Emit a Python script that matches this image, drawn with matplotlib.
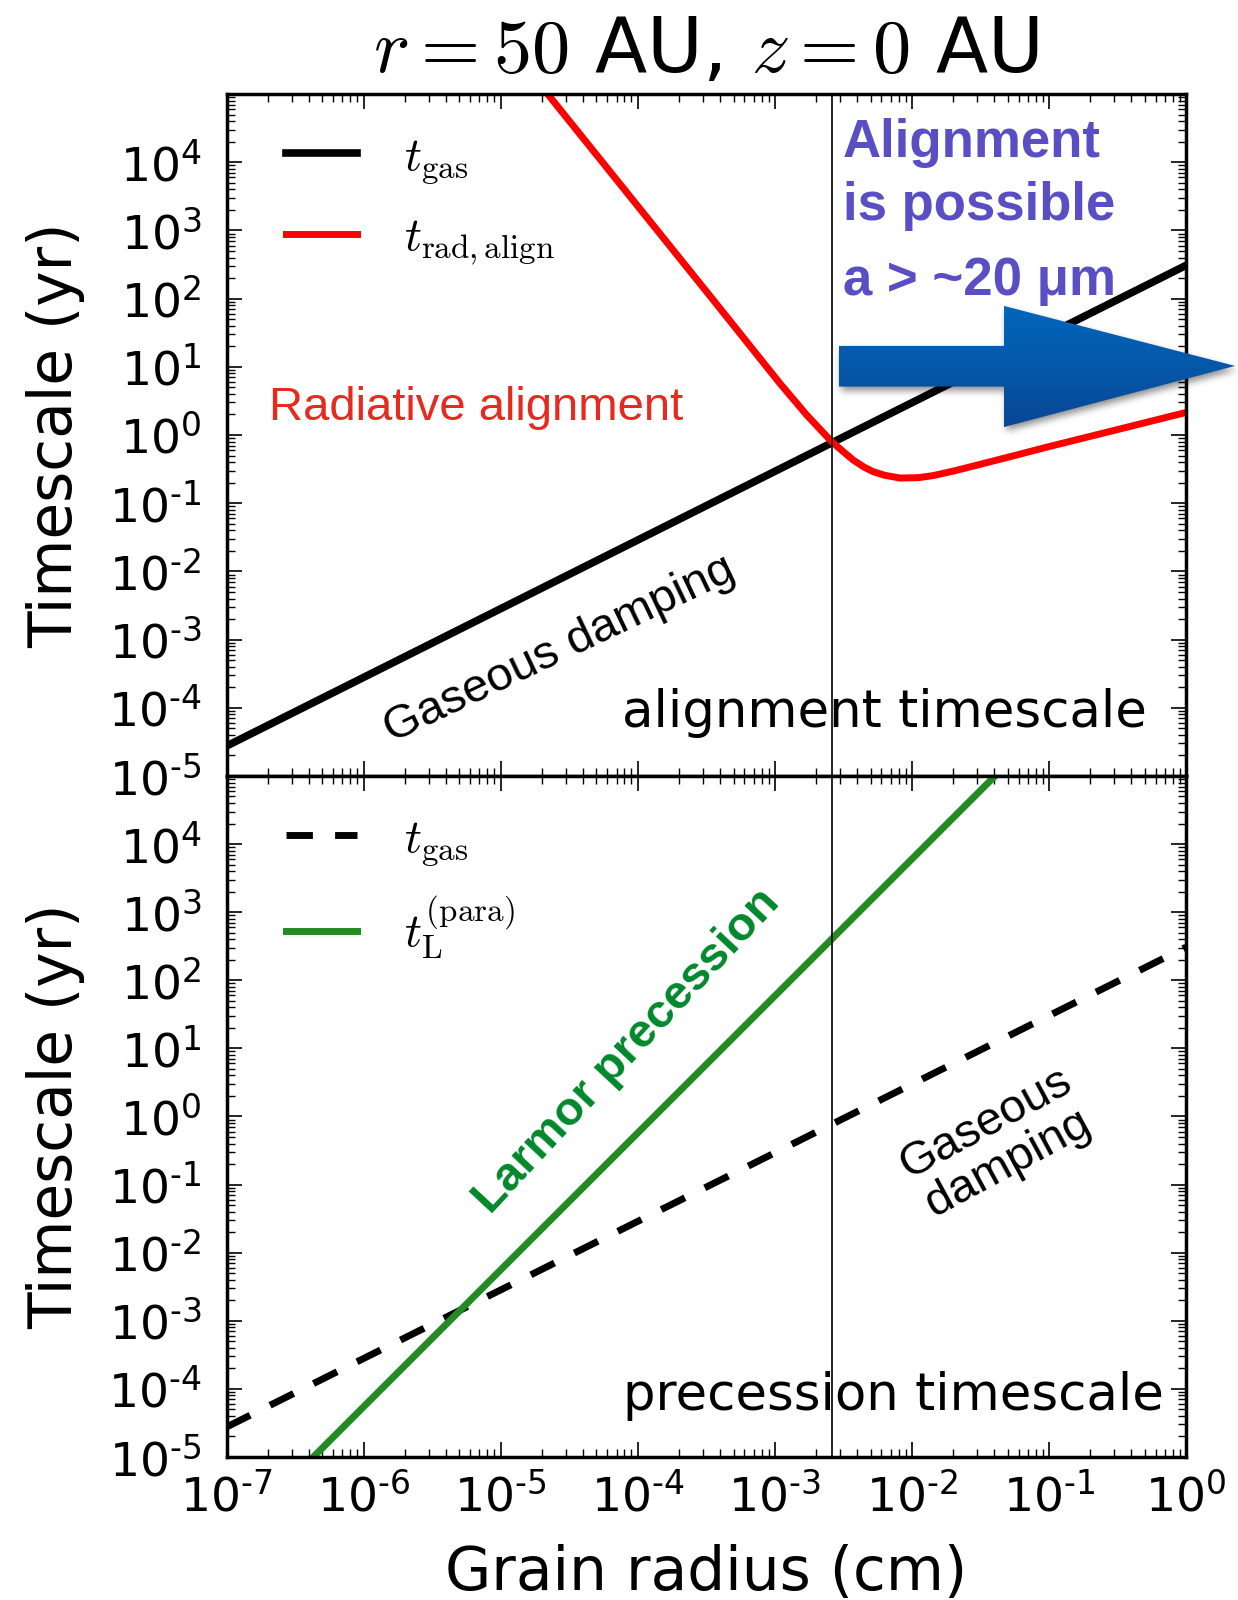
import numpy as np
import matplotlib
matplotlib.use("Agg")
import matplotlib.pyplot as plt
from matplotlib.colors import LinearSegmentedColormap
from matplotlib.patches import Polygon
from matplotlib.ticker import FixedLocator, FuncFormatter, LogLocator, NullFormatter

plt.rcParams["font.family"] = ["DejaVu Sans"]
plt.rcParams["mathtext.fontset"] = "cm"

# grain radius a (cm) and timescales (yr) at r = 50 AU, z = 0 AU
a_gas = [1e-7, 1.0]
t_gas = [2.75e-5, 3.07e2]

a_rad = [2.2e-5, 3.56e-4, 6.24e-4, 1.09e-3, 1.71e-3, 2.6e-3, 3.16e-3, 3.73e-3,
         4.47e-3, 5.22e-3, 6.31e-3, 8.18e-3, 1.12e-2, 1.43e-2, 2.0e-2, 3.16e-2,
         5.62e-2, 0.1, 0.316, 1.0]
t_rad = [1e5, 95.1, 23.2, 5.71, 1.96, 0.80, 0.569, 0.43,
         0.339, 0.29, 0.257, 0.234, 0.237, 0.254, 0.295, 0.372,
         0.50, 0.676, 1.20, 2.14]

a_larmor = [4.3e-7, 4.04e-2]
t_larmor = [1e-5, 1e5]

a_min_align = 2.6e-3  # ~20 micron threshold

x_decades = list(range(-7, 1))
y_decades = list(range(-5, 5))

SANS = ["Liberation Sans", "DejaVu Sans"]


def log_label(v, pos):
    e = int(round(np.log10(v)))
    # short hyphen for negative exponents
    exp = ("\u2010%d" % -e) if e < 0 else "%d" % e
    return r"$\mathdefault{10^{%s}}$" % exp


def style_axes(ax, show_xlabels):
    ax.set_xscale("log")
    ax.set_yscale("log")
    ax.set_xlim(1e-7, 1.0)
    ax.set_ylim(1e-5, 1e5)
    ax.xaxis.set_major_locator(FixedLocator([10.0 ** e for e in x_decades]))
    ax.yaxis.set_major_locator(FixedLocator([10.0 ** e for e in y_decades]))
    ax.xaxis.set_minor_locator(LogLocator(base=10, subs=np.arange(2, 10), numticks=30))
    ax.yaxis.set_minor_locator(LogLocator(base=10, subs=np.arange(2, 10), numticks=30))
    ax.xaxis.set_minor_formatter(NullFormatter())
    ax.yaxis.set_minor_formatter(NullFormatter())
    ax.yaxis.set_major_formatter(FuncFormatter(log_label))
    if show_xlabels:
        ax.xaxis.set_major_formatter(FuncFormatter(log_label))
    else:
        ax.xaxis.set_major_formatter(NullFormatter())
    ax.tick_params(which="both", direction="in", top=True, right=True)
    ax.tick_params(which="major", length=10.5, width=1.2, labelsize=34)
    ax.tick_params(which="minor", length=5.5, width=1.0)
    ax.tick_params(axis="y", pad=18)
    ax.tick_params(axis="x", pad=12)
    for sp in ax.spines.values():
        sp.set_linewidth(2.5)
    ax.axvline(a_min_align, color="k", lw=1.2)
    ax.set_ylabel("Timescale (yr)", fontsize=43)
    ax.yaxis.set_label_coords(-0.147, 0.5)


def add_legend(ax, spacing):
    ax.legend(loc="upper left", bbox_to_anchor=(0.062, 0.94), frameon=False,
              fontsize=34, handlelength=1.5, handletextpad=1.0,
              labelspacing=spacing, borderaxespad=0, borderpad=0)


fig = plt.figure(figsize=(12.38, 16), dpi=100)
ax_top = fig.add_axes([0.183, 0.515, 0.775, 0.42625])
ax_bot = fig.add_axes([0.183, 0.0894, 0.775, 0.4256])

# --- alignment timescales ---------------------------------------------------
ax_top.plot(a_gas, t_gas, color="k", lw=5.5, label=r"$t_{\rm gas}$")
ax_top.plot(a_rad, t_rad, color="red", lw=5.0, label=r"$t_{\rm rad,align}$")
style_axes(ax_top, show_xlabels=False)
ax_top.set_title(r"$r=50$ AU, $z=0$ AU", fontsize=55, pad=16)
add_legend(ax_top, 0.62)

ax_top.text(0.044, 0.522, "Radiative alignment", transform=ax_top.transAxes,
            color="#e62a1f", fontsize=34, family=SANS)
ax_top.text(0.3475, 0.1848, "Gaseous damping", transform=ax_top.transAxes,
            fontsize=34, family=SANS, rotation=25.5, rotation_mode="anchor",
            ha="center", va="center")
ax_top.text(0.9594, 0.0723, "alignment timescale", transform=ax_top.transAxes,
            fontsize=37, ha="right", va="baseline")

purple = "#5a4ec4"
for txt, yb in [("Alignment", 0.908), ("is possible", 0.815), ("a > ~20 μm", 0.705)]:
    ax_top.text(0.6426, yb, txt, transform=ax_top.transAxes, color=purple,
                fontsize=38, fontweight="bold", family=SANS, va="baseline")

# --- precession timescales --------------------------------------------------
ax_bot.plot(a_gas, t_gas, color="k", lw=5, dashes=(3.8, 3.2), label=r"$t_{\rm gas}$")
ax_bot.plot(a_larmor, t_larmor, color="#228b22", lw=5.0,
            label=r"$t_{\rm L}^{\rm (para)}$")
style_axes(ax_bot, show_xlabels=True)
ax_bot.set_xlabel("Grain radius (cm)", fontsize=43)
ax_bot.xaxis.set_label_coords(0.5, -0.128)
add_legend(ax_bot, 0.58)

ax_bot.text(0.4173, 0.595, "Larmor precession", transform=ax_bot.transAxes,
            color="#00882b", fontsize=34, fontweight="bold", family=SANS,
            rotation=47, rotation_mode="anchor", ha="center", va="center")
ax_bot.text(0.803, 0.461, "Gaseous\ndamping", transform=ax_bot.transAxes,
            fontsize=34, family=SANS, rotation=28.5, rotation_mode="anchor",
            ha="center", va="center", linespacing=1.05)
ax_bot.text(0.9766, 0.0683, "precession timescale", transform=ax_bot.transAxes,
            fontsize=37, ha="right", va="baseline")

# --- block arrow overlay (figure fraction coordinates) ----------------------
ov = fig.add_axes([0, 0, 1, 1])
ov.set_xlim(0, 1)
ov.set_ylim(0, 1)
ov.axis("off")
ov.patch.set_alpha(0)

arrow_xy = np.array([
    [0.6777, 0.7584], [0.8110, 0.7584], [0.8110, 0.7331], [0.9976, 0.7713],
    [0.8110, 0.8088], [0.8110, 0.7838], [0.6777, 0.7838],
])
x0, x1, y0, y1 = 0.66, 1.0, 0.715, 0.825

# soft drop shadow: rasterised mask, box-blurred
nx, ny = int((x1 - x0) * 1238), int((y1 - y0) * 1600)
gx, gy = np.meshgrid(np.linspace(x0, x1, nx), np.linspace(y0, y1, ny))
shape = Polygon(arrow_xy, closed=True)
mask = shape.get_path().contains_points(
    np.column_stack([gx.ravel() - 2.0 / 1238, gy.ravel() + 4.0 / 1600])
).reshape(ny, nx).astype(float)
k = np.ones(7) / 7.0
for _ in range(3):
    mask = np.apply_along_axis(lambda v: np.convolve(v, k, mode="same"), 0, mask)
    mask = np.apply_along_axis(lambda v: np.convolve(v, k, mode="same"), 1, mask)
shadow = np.zeros((ny, nx, 4))
shadow[..., 3] = 0.45 * mask
ov.imshow(shadow, extent=[x0, x1, y0, y1], origin="lower", aspect="auto",
          interpolation="bilinear", zorder=1)

# blue gradient fill clipped to the arrow outline
clip = Polygon(arrow_xy, closed=True, facecolor="none", edgecolor="none",
               transform=ov.transData)
ov.add_patch(clip)
blues = LinearSegmentedColormap.from_list("arrow", ["#0a4795", "#0068bd"])
grad = np.linspace(0, 1, 256).reshape(-1, 1)
im = ov.imshow(grad, cmap=blues, extent=[0.67, 1.0, 0.733, 0.809],
               origin="lower", aspect="auto", zorder=2)
im.set_clip_path(clip)
ov.set_xlim(0, 1)
ov.set_ylim(0, 1)

fig.savefig("out.png", dpi=100)
